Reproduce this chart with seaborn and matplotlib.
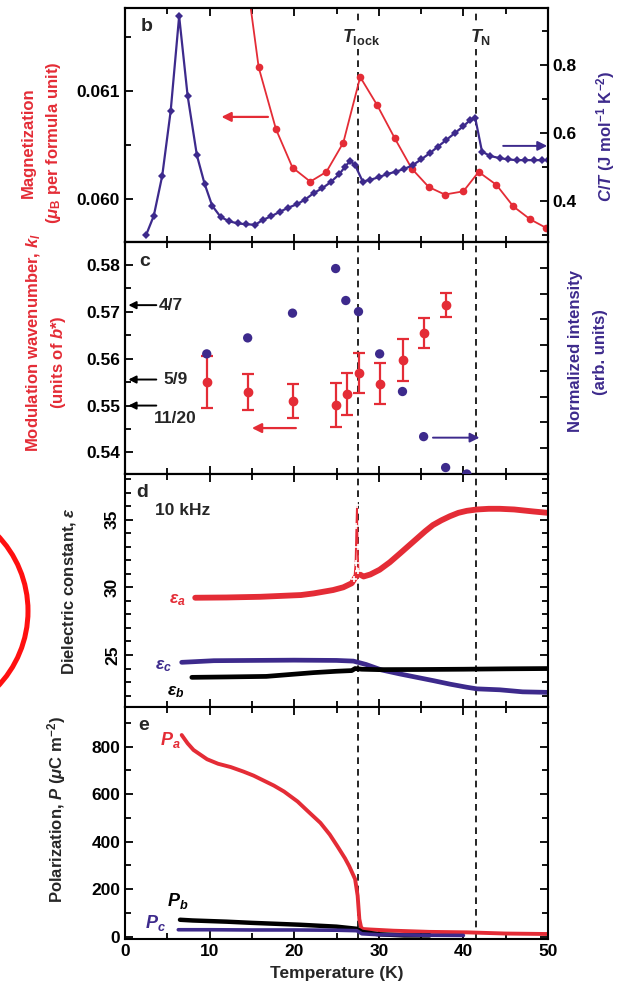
import numpy as np
import pandas as pd
import seaborn as sns
import matplotlib.pyplot as plt
from matplotlib.patches import Circle
from matplotlib.ticker import MultipleLocator, FormatStrFormatter, NullFormatter
import matplotlib.transforms as mtrans

# ---- data ----
# b: magnetization (left) and C/T (right)
T_M = [14.3, 15.8, 17.85, 19.8, 21.9, 23.8, 25.8, 27.8, 29.8, 31.9, 33.9, 35.9,
       37.8, 40.0, 41.8, 43.9, 45.9, 47.9, 49.8]
M = [0.0621, 0.06122, 0.060645, 0.06029, 0.06016, 0.06025, 0.06052, 0.06113,
     0.06087, 0.06056, 0.06028, 0.06011, 0.06004, 0.06007, 0.06025, 0.06013,
     0.05993, 0.05981, 0.05973]
T_CT = [2.5, 3.4, 4.4, 5.4, 6.4, 7.4, 8.5, 9.4, 10.3, 11.3, 12.3, 13.3, 14.3, 15.4,
        16.3, 17.3, 18.3, 19.3, 20.3, 21.3, 22.3, 23.3, 24.3, 25.3, 26.0, 26.6,
        27.2, 28.1, 29.0, 30.0, 31.0, 32.0, 33.0, 34.0, 35.0, 36.0, 37.0, 38.0,
        39.0, 40.0, 40.8, 41.4, 42.2, 43.2, 44.3, 45.3, 46.3, 47.3, 48.3, 49.3, 50.0]
CT = [0.30, 0.356, 0.474, 0.665, 0.944, 0.71, 0.534, 0.451, 0.386, 0.353, 0.340,
      0.334, 0.331, 0.330, 0.344, 0.355, 0.368, 0.380, 0.390, 0.404, 0.423, 0.437,
      0.455, 0.478, 0.500, 0.518, 0.505, 0.457, 0.462, 0.470, 0.479, 0.486, 0.494,
      0.505, 0.522, 0.540, 0.560, 0.580, 0.600, 0.620, 0.638, 0.644, 0.545, 0.532,
      0.526, 0.522, 0.520, 0.520, 0.520, 0.520, 0.520]

# c: modulation wavenumber (left) and normalized intensity (right)
T_k = [9.66, 14.5, 19.8, 24.9, 26.2, 27.7, 30.1, 32.9, 35.4, 37.9]
k = [0.5550, 0.5529, 0.5509, 0.5502, 0.5525, 0.5569, 0.5547, 0.5598, 0.5654, 0.5714]
k_err = [0.0055, 0.0039, 0.0036, 0.0047, 0.0045, 0.0043, 0.0043, 0.0045, 0.0032, 0.0026]
T_I = [9.66, 14.5, 19.8, 24.9, 26.1, 27.6, 30.1, 32.8, 35.3, 37.9, 40.4]
I = [0.466, 0.528, 0.624, 0.797, 0.673, 0.630, 0.466, 0.320, 0.145, 0.025, 0.0]
fractions = ["4/7", "5/9", "11/20"]
frac_vals = [4 / 7, 5 / 9, 11 / 20]

# d: dielectric constant, 10 kHz
T_ea = [8.3, 12.0, 16.0, 20.8, 22.3, 24.6, 25.8, 26.8, 27.2, 27.6, 28.2, 29.0, 30.1,
        31.3, 32.5, 33.5, 34.5, 35.5, 36.4, 37.4, 38.4, 39.4, 40.4, 41.6, 43.0,
        44.3, 46.0, 48.3, 50.0]
eps_a = [29.23, 29.25, 29.3, 29.43, 29.55, 29.8, 30.0, 30.3, 30.7, 31.0, 30.8, 30.95,
         31.3, 31.85, 32.5, 33.05, 33.6, 34.15, 34.6, 34.95, 35.25, 35.5, 35.65,
         35.75, 35.8, 35.8, 35.75, 35.6, 35.5]
T_spike = [27.1, 27.25, 27.35, 27.42, 27.5, 27.6]
eps_spike = [30.6, 31.8, 34.5, 36.1, 33.0, 31.2]
T_ec = [6.7, 8.0, 10.5, 15.0, 20.0, 25.0, 27.0, 28.5, 30.3, 32.5, 34.5, 36.5, 38.4,
        40.4, 41.6, 44.3, 47.0, 50.0]
eps_c = [24.46, 24.5, 24.58, 24.6, 24.62, 24.6, 24.55, 24.3, 23.9, 23.6, 23.35, 23.1,
         22.85, 22.62, 22.5, 22.43, 22.28, 22.24]
T_eb = [7.9, 12.0, 16.7, 20.7, 22.3, 25.0, 26.8, 27.2, 28.0, 30.0, 35.0, 40.0, 45.0, 50.0]
eps_b = [23.35, 23.38, 23.42, 23.62, 23.7, 23.8, 23.85, 24.0, 23.95, 23.92, 23.93,
         23.95, 23.98, 24.0]

# e: polarization
T_Pa = [6.7, 7.4, 8.1, 9.7, 11.0, 12.5, 14.0, 15.2, 16.4, 17.6, 18.8, 20.4, 21.5,
        23.1, 24.2, 25.1, 26.0, 26.5, 27.2, 27.5, 27.7, 27.9, 28.1, 29.0, 31.7,
        36.0, 40.4, 45.0, 50.0]
P_a = [849, 814, 786, 747, 728, 714, 695, 678, 657, 636, 611, 569, 532, 479, 430,
       381, 330, 297, 242, 172, 74, 40, 32, 30, 25, 20, 18, 13, 11]
T_Pb = [6.5, 8.0, 12.0, 15.0, 20.7, 25.0, 27.4, 28.0, 30.0, 33.0, 36.0]
P_b = [71, 68, 63, 58, 50, 42, 33, 20, 10, 5, 5]
T_Pc = [6.3, 10.0, 15.0, 20.0, 25.0, 27.4, 28.0, 30.0, 35.0, 40.0]
P_c = [29, 29, 28, 28, 27, 25, 12, 8, 6, 5]

T_lock, T_N = 27.5, 41.5

RED = "#e42c36"
BLUE = "#3d2a8c"

sns.set_theme(style="ticks")
plt.rcParams['font.family'] = ['Liberation Sans', 'DejaVu Sans']
plt.rcParams['font.weight'] = 'bold'
plt.rcParams['axes.labelweight'] = 'bold'
plt.rcParams['mathtext.fontset'] = 'custom'
plt.rcParams['mathtext.rm'] = 'Liberation Sans:bold'
plt.rcParams['mathtext.it'] = 'Liberation Sans:italic:bold'
plt.rcParams['mathtext.bf'] = 'Liberation Sans:bold'

fig = plt.figure(figsize=(6.27, 9.91), dpi=100)
L, W = 125 / 627, 423 / 627
def box(top, bot):
    return [L, (991 - bot) / 991, W, (bot - top) / 991]

ax_b = fig.add_axes(box(8, 242))
ax_c = fig.add_axes(box(242, 474), sharex=ax_b)
ax_d = fig.add_axes(box(474, 707), sharex=ax_b)
ax_e = fig.add_axes(box(707, 939), sharex=ax_b)
ax_b2 = ax_b.twinx()
ax_c2 = ax_c.twinx()

TS = 12.5
def style(ax, right=True):
    for s in ax.spines.values():
        s.set_linewidth(1.5)
        s.set_color("black")
    ax.tick_params(which="both", direction="in", top=True, right=right,
                   labelsize=TS, width=1.3, colors="black")
    ax.tick_params(which="major", length=6)
    ax.tick_params(which="minor", length=4)

for ax in (ax_b, ax_c):
    style(ax, right=False)
for ax in (ax_b2, ax_c2):
    style(ax)
    ax.tick_params(which="both", top=False, left=False)
for ax in (ax_d, ax_e):
    style(ax)

ax_e.set_xlim(0, 50)
ax_e.xaxis.set_major_locator(MultipleLocator(10))
ax_e.xaxis.set_minor_locator(MultipleLocator(5))
for ax in (ax_b, ax_c, ax_d):
    ax.tick_params(labelbottom=False)

for ax in (ax_b, ax_c, ax_d, ax_e):
    ax.axvline(T_lock, color="black", lw=1.2, dashes=(4, 3), zorder=1)
    ax.axvline(T_N, color="black", lw=1.2, dashes=(4, 3), zorder=1)

# ---- panel b ----
sns.lineplot(x=T_M, y=M, ax=ax_b, color=RED, lw=1.3, marker="o", markersize=5.5,
             markeredgewidth=0, estimator=None, sort=False)
sns.lineplot(x=T_CT, y=CT, ax=ax_b2, color=BLUE, lw=1.6, marker="D", markersize=4.5,
             markeredgewidth=0, estimator=None, sort=False)
ax_b.set_ylim(0.0596, 0.06177)
ax_b.yaxis.set_major_locator(MultipleLocator(0.001))
ax_b.yaxis.set_minor_locator(MultipleLocator(0.0005))
ax_b.yaxis.set_major_formatter(FormatStrFormatter("%.3f"))
ax_b2.set_ylim(0.279, 0.968)
ax_b2.yaxis.set_major_locator(MultipleLocator(0.2))
ax_b2.yaxis.set_minor_locator(MultipleLocator(0.1))
ax_b2.yaxis.set_major_formatter(FormatStrFormatter("%.1f"))
ax_b.set_ylabel("")
ax_b2.set_ylabel("")
ax_b.annotate("", xy=(11.4, 0.06076), xytext=(16.9, 0.06076),
              arrowprops=dict(arrowstyle="-|>", color=RED, lw=1.6, mutation_scale=14,
                              shrinkA=0, shrinkB=0))
ax_b2.annotate("", xy=(49.9, 0.562), xytext=(44.7, 0.562),
               arrowprops=dict(arrowstyle="-|>", color=BLUE, lw=1.4, mutation_scale=14,
                               shrinkA=0, shrinkB=0))
tr_b = mtrans.blended_transform_factory(ax_b.transData, ax_b.transAxes)
ax_b2.text(27.9, 0.875, r"$T_\mathrm{lock}$", transform=tr_b, ha="center", va="center",
           fontsize=13, bbox=dict(fc="white", ec="none", pad=1.5), zorder=5)
ax_b2.text(42.0, 0.875, r"$T_\mathrm{N}$", transform=tr_b, ha="center", va="center",
           fontsize=13, bbox=dict(fc="white", ec="none", pad=1.5), zorder=5)
ax_b.text(0.05, 0.92, "b", transform=ax_b.transAxes, fontsize=14, ha="center", va="center")
ax_b.text(-0.229, 0.425, "Magnetization", transform=ax_b.transAxes, rotation=90,
          color=RED, fontsize=12, ha="center", va="center")
ax_b.text(-0.170, 0.425, r"($\mu_\mathrm{B}$ per formula unit)", transform=ax_b.transAxes,
          rotation=90, color=RED, fontsize=12, ha="center", va="center")
ax_b2.text(1.135, 0.45, r"$C/T$ (J mol$^{-1}$ K$^{-2}$)", transform=ax_b.transAxes,
           rotation=90, color=BLUE, fontsize=12, ha="center", va="center")

# ---- panel c ----
ax_c.errorbar(T_k, k, yerr=k_err, fmt="o", color=RED, ms=6, capsize=4, elinewidth=1.6,
              capthick=1.6, zorder=3)
sns.scatterplot(x=T_I, y=I, ax=ax_c2, color=BLUE, s=45, edgecolor="none", zorder=3,
                clip_on=True)
ax_c.set_ylim(0.5354, 0.5849)
ax_c.yaxis.set_major_locator(MultipleLocator(0.01))
ax_c.yaxis.set_minor_locator(MultipleLocator(0.005))
ax_c.yaxis.set_major_formatter(FormatStrFormatter("%.2f"))
ax_c2.set_ylim(0, 0.9)
ax_c2.set_yticks(np.arange(0.1, 0.85, 0.1))
ax_c2.yaxis.set_major_formatter(NullFormatter())
ax_c2.set_ylabel("")
text_x = [4.0, 4.6, 3.4]
text_y = [4 / 7, 5 / 9, 0.5472]
for lab, v, tx, ty in zip(fractions, frac_vals, text_x, text_y):
    ax_c.annotate("", xy=(0.4, v), xytext=(3.7, v),
                  arrowprops=dict(arrowstyle="-|>", color="black", lw=1.4,
                                  mutation_scale=11, shrinkA=0, shrinkB=0))
    ax_c.text(tx, ty, lab, fontsize=12.5, ha="left", va="center")
ax_c.annotate("", xy=(15.0, 0.5452), xytext=(20.2, 0.5452),
              arrowprops=dict(arrowstyle="-|>", color=RED, lw=1.6, mutation_scale=14,
                              shrinkA=0, shrinkB=0))
ax_c2.annotate("", xy=(41.9, 0.141), xytext=(36.4, 0.141),
               arrowprops=dict(arrowstyle="-|>", color=BLUE, lw=1.4, mutation_scale=14,
                               shrinkA=0, shrinkB=0))
ax_c.text(0.047, 0.918, "c", transform=ax_c.transAxes, fontsize=14, ha="center", va="center")
ax_c.text(-0.215, 0.567, r"Modulation wavenumber, $k_l$", transform=ax_c.transAxes,
          rotation=90, color=RED, fontsize=12, ha="center", va="center")
ax_c.text(-0.158, 0.48, r"(units of $b$*)", transform=ax_c.transAxes, rotation=90,
          color=RED, fontsize=12, ha="center", va="center")
ax_c2.text(1.064, 0.53, "Normalized intensity", transform=ax_c.transAxes, rotation=90,
           color=BLUE, fontsize=12, ha="center", va="center")
ax_c2.text(1.123, 0.525, "(arb. units)", transform=ax_c.transAxes, rotation=90,
           color=BLUE, fontsize=12, ha="center", va="center")

# ---- panel d ----
sns.lineplot(x=T_ea, y=eps_a, ax=ax_d, color=RED, lw=4.2, estimator=None, sort=False)
sns.lineplot(x=T_spike, y=eps_spike, ax=ax_d, color=RED, lw=1.3, marker="+",
             markersize=5, markeredgewidth=1.2, estimator=None, sort=False)
sns.lineplot(x=T_ec, y=eps_c, ax=ax_d, color=BLUE, lw=3.4, estimator=None, sort=False)
sns.lineplot(x=T_eb, y=eps_b, ax=ax_d, color="black", lw=3.4, estimator=None, sort=False)
ax_d.set_ylim(21.16, 38.37)
ax_d.yaxis.set_major_locator(MultipleLocator(5))
ax_d.yaxis.set_minor_locator(MultipleLocator(1))
for lbl in ax_d.get_yticklabels():
    lbl.set_rotation(90)
    lbl.set_va("center")
ax_d.text(6.2, 29.06, r"$\epsilon_a$", color=RED, fontsize=12.5, ha="center", va="center")
ax_d.text(4.6, 24.17, r"$\epsilon_c$", color=BLUE, fontsize=12.5, ha="center", va="center")
ax_d.text(6.0, 22.26, r"$\epsilon_b$", color="black", fontsize=12.5, ha="center", va="center")
ax_d.text(0.04, 0.92, "d", transform=ax_d.transAxes, fontsize=14, ha="center", va="center")
ax_d.text(0.071, 0.845, "10 kHz", transform=ax_d.transAxes, fontsize=12.5, ha="left",
          va="center")
ax_d.set_ylabel(r"Dielectric constant, $\epsilon$", fontsize=12, fontweight="bold")
ax_d.yaxis.set_label_coords(-0.111, 0.50)

# ---- panel e ----
sns.lineplot(x=T_Pa, y=P_a, ax=ax_e, color=RED, lw=2.8, estimator=None, sort=False)
sns.lineplot(x=T_Pb, y=P_b, ax=ax_e, color="black", lw=3.2, estimator=None, sort=False)
sns.lineplot(x=T_Pc, y=P_c, ax=ax_e, color=BLUE, lw=2.6, estimator=None, sort=False)
ax_e.set_ylim(-10, 967)
ax_e.yaxis.set_major_locator(MultipleLocator(200))
ax_e.yaxis.set_minor_locator(MultipleLocator(100))
ax_e.text(5.4, 828, r"$P_a$", color=RED, fontsize=13, ha="center", va="center")
ax_e.text(6.2, 151, r"$P_b$", color="black", fontsize=13, ha="center", va="center")
ax_e.text(3.6, 57, r"$P_c$", color=BLUE, fontsize=13, ha="center", va="center")
ax_e.text(0.045, 0.922, "e", transform=ax_e.transAxes, fontsize=14, ha="center", va="center")
ax_e.set_ylabel(r"Polarization, $P$ ($\mu$C m$^{-2}$)", fontsize=12, fontweight="bold")
ax_e.yaxis.set_label_coords(-0.135, 0.556)
ax_e.set_xlabel("Temperature (K)", fontsize=12.5, fontweight="bold", labelpad=5)

# red circle partly outside the figure, left edge
fig.add_artist(Circle((-0.81, 3.80), 1.09, transform=fig.dpi_scale_trans, fill=False,
                      ec="#ff1010", lw=3.6, clip_on=False))

fig.savefig("out.png", dpi=100)
